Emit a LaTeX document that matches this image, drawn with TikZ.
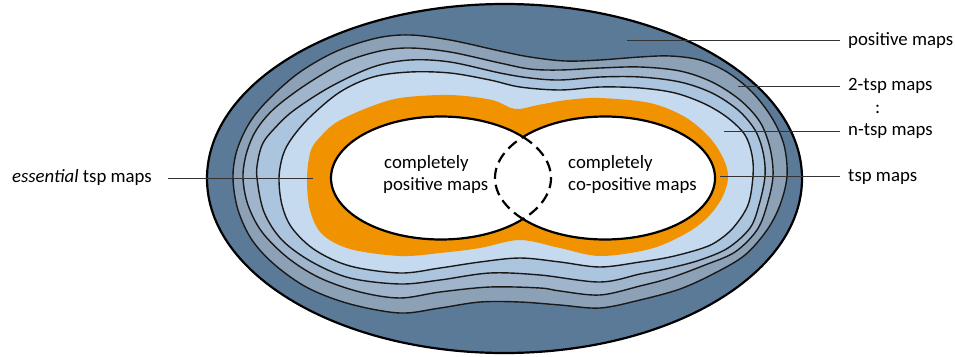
\documentclass[tikz,border=0pt]{standalone}
\usepackage{fontspec}
\setmainfont{Carlito}
\definecolor{posblue}{RGB}{90,122,152}
\definecolor{bandfour}{RGB}{140,161,182}
\definecolor{bandthree}{RGB}{160,181,203}
\definecolor{bandtwo}{RGB}{172,197,222}
\definecolor{bandone}{RGB}{197,218,238}
\definecolor{tsporange}{RGB}{241,146,0}
\tikzset{
  contour/.style={draw=black!90, line width=1.4pt},
  wline/.style={draw=black, line width=2.2pt},
  leader/.style={draw=black!80, line width=0.9pt},
  lbl/.style={anchor=base west, inner ysep=0pt, inner xsep=8pt, font=\fontsize{18.8}{22}\selectfont},
  intext/.style={anchor=base west, inner sep=0pt, font=\fontsize{18.8}{22}\selectfont},
}
\begin{document}
\begin{tikzpicture}[x=1pt,y=-1pt]
\useasboundingbox (0,0) rectangle (955,356);
% outer region: positive maps
\fill[posblue] (504.5,178.5) ellipse [x radius=297.5, y radius=174.5];
% contour 4
\path[fill=bandfour, contour] plot[smooth cycle, tension=0.55] coordinates {
 (233,178) (237,150) (250,122) (270,98) (300,72) (337,51) (377,38) (410,35) (450,40)
 (500,51) (530,57) (565,61) (600,60) (640,57) (670,56) (700,60) (727,72) (752,92)
 (772,118) (784,145) (787,176) (780,205) (767,230) (745,255) (715,273) (680,289)
 (640,300) (600,308) (560,305) (520,302) (480,302) (440,308) (400,313) (350,304)
 (308,288) (275,265) (252,240) (238,210)};
% contour 3
\path[fill=bandthree, contour] plot[smooth cycle, tension=0.55] coordinates {
 (243,178) (246,155) (254,134) (266,117) (282,102) (310,82) (345,62) (380,51) (410,48)
 (450,52) (500,63) (530,69) (560,70) (600,68) (640,67) (680,71) (712,82) (740,100)
 (760,122) (770,148) (773,176) (767,205) (757,230) (735,252) (705,265) (670,278)
 (640,286) (600,295) (560,291) (540,288) (490,287) (440,292) (400,298) (360,292)
 (320,278) (288,258) (262,232) (248,205)};
% contour 2
\path[fill=bandtwo, contour] plot[smooth cycle, tension=0.55] coordinates {
 (257,178) (258,160) (263,143) (274,129) (293,111) (330,87) (373,67) (410,60) (450,62)
 (500,73) (530,78) (560,80) (600,77) (640,77) (680,82) (712,93) (738,110) (755,130)
 (763,152) (765,176) (759,205) (750,228) (728,248) (700,260) (670,268) (640,274)
 (600,282) (540,275) (490,273) (440,280) (400,284) (350,278) (312,262) (282,240)
 (264,212)};
% contour 1
\path[fill=bandone, contour] plot[smooth cycle, tension=0.55] coordinates {
 (279,178) (283,155) (292,138) (310,117) (340,92) (373,77) (410,72) (450,73) (490,80)
 (520,87) (560,90) (600,87) (640,88) (675,93) (705,104) (728,118) (745,135) (752,155)
 (753,176) (748,205) (733,228) (716,242) (700,249) (670,257) (640,262) (600,267)
 (560,262) (520,258) (480,262) (440,268) (400,273) (350,266) (315,250) (292,228)
 (282,205)};
% orange: tsp maps
\fill[tsporange] plot[smooth cycle, tension=0.55] coordinates {
 (307,178) (311,150) (322,135) (337,122) (367,108) (400,98) (450,95) (492,100)
 (515,109) (538,105) (567,100) (600,98) (650,103) (685,117) (710,138) (724,160)
 (728,178) (722,198) (707,218) (685,234) (650,249) (600,256) (560,248) (520,240)
 (480,248) (440,253) (400,256) (350,249) (322,234) (310,210)};
% completely positive / co-positive maps
\fill[white] (441,178) ellipse [x radius=110, y radius=61.5];
\fill[white] (605,178) ellipse [x radius=110, y radius=61.5];
\draw[wline] plot[domain=41.8:318.2, samples=120] ({441+110*cos(\x)},{178+61.5*sin(\x)});
\draw[wline] plot[domain=-138.2:138.2, samples=120] ({605+110*cos(\x)},{178+61.5*sin(\x)});
\draw[wline, dash pattern=on 11pt off 6pt] plot[domain=-41.8:41.8, samples=60] ({441+110*cos(\x)},{178+61.5*sin(\x)});
\draw[wline, dash pattern=on 11pt off 6pt] plot[domain=138.2:221.8, samples=60] ({605+110*cos(\x)},{178+61.5*sin(\x)});
% outer outline
\draw[line width=2.2pt] (504.5,178.5) ellipse [x radius=297.5, y radius=174.5];
% inner texts
\node[intext] (cpa) at (384,168) {completely};
\node[intext] (cpb) at (383,190) {positive maps};
\node[intext] (cca) at (568,168) {completely};
\node[intext] (ccb) at (568,190) {co-positive maps};
% right labels
\node[lbl] (lpos) at (840,45) {positive maps};
\node[lbl] (ltwo) at (840,90.5) {2-tsp maps};
\node[lbl] (ldots) at (867,113) {:};
\node[lbl] (ln) at (840,135.5) {n-tsp maps};
\node[lbl] (ltsp) at (840,181) {tsp maps};
\node[anchor=base east, inner ysep=0pt, inner xsep=16pt, font=\fontsize{18.8}{22}\selectfont] (less) at (168,182) {\itshape essential\upshape{} tsp maps};
% leader end points
\coordinate (apos) at (627,40.5);
\coordinate (atwo) at (738,86);
\coordinate (an) at (724,131);
\coordinate (atsp) at (720,176.5);
\coordinate (aess) at (313,178.3);
\draw[leader] (apos) -- (apos -| lpos.west);
\draw[leader] (atwo) -- (atwo -| ltwo.west);
\draw[leader] (an) -- (an -| ln.west);
\draw[leader] (atsp) -- (atsp -| ltsp.west);
\draw[leader] (less.east |- aess) -- (aess);
\end{tikzpicture}
\end{document}
